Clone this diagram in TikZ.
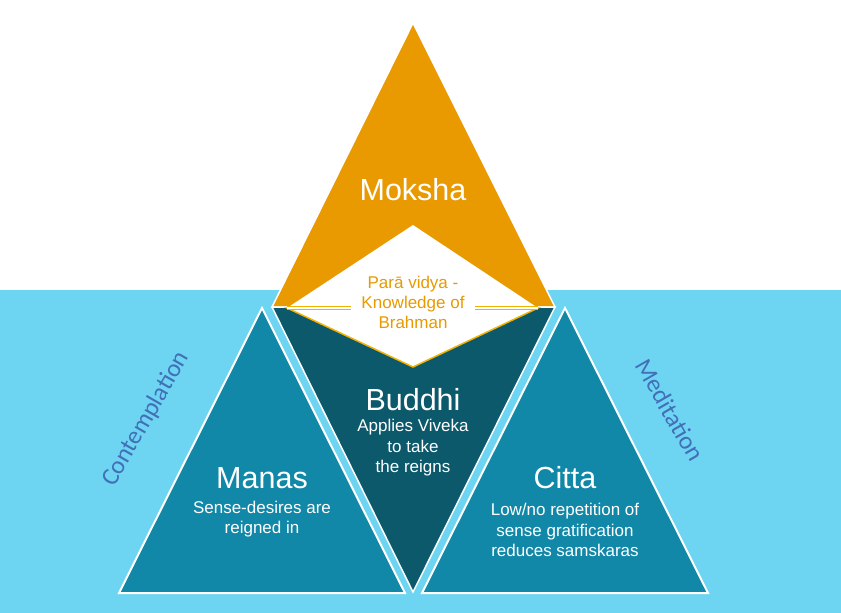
\documentclass[tikz,border=0pt]{standalone}
\usepackage{fontspec}
\setmainfont{Liberation Sans}
\newfontfamily\lightfont{Carlito}
\definecolor{mokshaorange}{HTML}{E89A00}
\definecolor{vidyaline}{HTML}{F2B200}
\definecolor{buddhiteal}{HTML}{0D596C}
\definecolor{mindteal}{HTML}{1188A8}
\definecolor{seablue}{HTML}{6DD5F1}
\definecolor{wayblue}{HTML}{416FB8}
\tikzstyle{title}=[text=white,font=\fontsize{30.5}{34}\selectfont]
\tikzstyle{caption}=[text=white,align=center,font=\fontsize{17}{20.5}\selectfont]
\tikzstyle{vidya}=[text=mokshaorange,align=center,fill=white,inner xsep=10pt,inner ysep=0pt,font=\fontsize{17}{20}\selectfont]
\tikzstyle{practice}=[text=wayblue,inner sep=0pt,font=\lightfont\fontsize{25}{28}\selectfont]
\tikzstyle{mind}=[fill=mindteal,draw=white,line width=2pt,line join=miter]

\begin{document}
\begin{tikzpicture}[x=1pt,y=-1pt]
\useasboundingbox (0,0) rectangle (841,613);
\fill[white] (0,0) rectangle (841,290);
\fill[seablue] (0,290) rectangle (841,613);
% corners
\coordinate (top) at (413,23);
\coordinate (left) at (272,307);
\coordinate (right) at (555,307);
\coordinate (bottom) at (413,592);
\coordinate (dtop) at (413,225);
\coordinate (dleft) at (287,308);
\coordinate (dright) at (538,308);
\coordinate (dbottom) at (413,367);
% big triangles
\filldraw[fill=mokshaorange,draw=white,line width=1.5pt] (top) -- (left) -- (right) -- cycle;
\filldraw[fill=buddhiteal,draw=white,line width=1.5pt] (left) -- (right) -- (bottom) -- cycle;
\fill[white] (dleft) -- (dtop) -- (dright) -- cycle;
\filldraw[fill=white,draw=vidyaline,line width=1.5pt] (dleft) -- (dright) -- (dbottom) -- cycle;
\draw[vidyaline,double=white,double distance=1.2pt,line width=1pt] (dleft) -- (dright);
\draw[mind] (262,308) -- (119,593) -- (405,593) -- cycle;
\draw[mind] (565,308) -- (422,593) -- (708,593) -- cycle;
% labels
\node[title] at (413,190) (moksha) {Moksha};
\node[vidya] at (413,302) (paravidya) {Parā vidya -\\Knowledge of\\Brahman};
\node[title] at (413,400) (buddhi) {Buddhi};
\node[caption] at (413,448) (buddhitext) {Applies Viveka\\to take\\the reigns};
\node[title] at (262,478) (manas) {Manas};
\node[caption] at (262,519) (manastext) {Sense-desires are\\reigned in};
\node[title] at (565,478) (citta) {Citta};
\node[caption] at (565,530) (cittatext) {Low/no repetition of\\sense gratification\\reduces samskaras};
\node[practice,rotate=60] at (146,419) (contemplation) {Contemplation};
\node[practice,rotate=-60] at (670,410) (meditation) {Meditation};
\end{tikzpicture}
\end{document}
